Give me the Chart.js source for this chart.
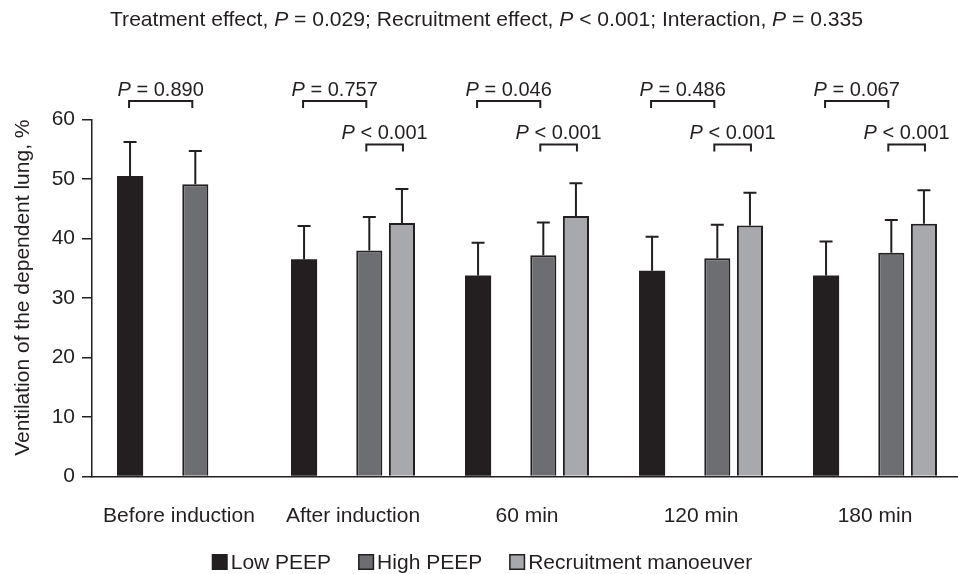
<!DOCTYPE html>
<html>
<head>
<meta charset="utf-8">
<script src="https://cdn.jsdelivr.net/npm/chart.js@4"></script>
<style>
  html, body { margin: 0; padding: 0; background: #fff; overflow: hidden; }
  #wrap { width: 958px; height: 574px; overflow: hidden; }
</style>
</head>
<body>
<div id="wrap"><canvas id="ventChart" width="962" height="574"></canvas></div>
<script>
// values (mean and upper SD whisker)
const categories = ['Before induction', 'After induction', '60 min', '120 min', '180 min'];
const lowPeep = [50.5, 36.5, 33.8, 34.6, 33.8];
const lowPeepSd = [5.7, 5.6, 5.5, 5.7, 5.7];
const highPeep = [49.1, 38.0, 37.2, 36.7, 37.6];
const highPeepSd = [5.6, 5.6, 5.5, 5.6, 5.5];
const recruitment = [null, 42.6, 43.8, 42.2, 42.5];
const recruitmentSd = [null, 5.7, 5.5, 5.5, 5.6];
const pLowHigh = ['= 0.890', '= 0.757', '= 0.046', '= 0.486', '= 0.067'];
const pHighRecruit = [null, '< 0.001', '< 0.001', '< 0.001', '< 0.001'];
const titleParts = [
  ['Treatment effect, ', false], ['P', true], [' = 0.029; Recruitment effect, ', false],
  ['P', true], [' < 0.001; Interaction, ', false], ['P', true], [' = 0.335', false]
];

const ink = '#231f20';
const family = '"Liberation Sans", Arial, Helvetica, sans-serif';
Chart.defaults.font.family = family;
Chart.defaults.color = ink;

// italic P followed by the rest, centred on cx
function drawP(ctx, text, cx, baseline) {
  const italic = 'italic 20px ' + family;
  const normal = '20px ' + family;
  const rest = ' ' + text;
  ctx.font = italic;
  const wP = ctx.measureText('P').width;
  ctx.font = normal;
  const wR = ctx.measureText(rest).width;
  const x = cx - (wP + wR) / 2;
  ctx.textAlign = 'left';
  ctx.textBaseline = 'alphabetic';
  ctx.font = italic;
  ctx.fillText('P', x, baseline);
  ctx.font = normal;
  ctx.fillText(rest, x + wP, baseline);
}

function bracket(ctx, x1, x2, yLine, text) {
  ctx.beginPath();
  ctx.moveTo(x1, yLine + 7);
  ctx.lineTo(x1, yLine);
  ctx.lineTo(x2, yLine);
  ctx.lineTo(x2, yLine + 7);
  ctx.stroke();
  drawP(ctx, text, (x1 + x2) / 2, yLine - 5.5);
}

const errorBars = {
  id: 'errorBars',
  afterDatasetsDraw(chart) {
    const ctx = chart.ctx;
    const y = chart.scales.y;
    ctx.save();
    ctx.strokeStyle = ink;
    ctx.lineWidth = 2;
    chart.data.datasets.forEach((ds, di) => {
      if (!ds.sd) return;
      chart.getDatasetMeta(di).data.forEach((bar, i) => {
        if (ds.data[i] == null) return;
        const top = y.getPixelForValue(ds.data[i] + ds.sd[i]);
        ctx.beginPath();
        ctx.moveTo(bar.x, bar.y);
        ctx.lineTo(bar.x, top);
        ctx.moveTo(bar.x - 6.5, top);
        ctx.lineTo(bar.x + 6.5, top);
        ctx.stroke();
      });
    });
    ctx.restore();
  }
};

const annotations = {
  id: 'annotations',
  afterDraw(chart) {
    const ctx = chart.ctx;
    const y = chart.scales.y;
    const lowBars = chart.getDatasetMeta(0).data;
    const highBars = chart.getDatasetMeta(2).data;
    const rmBars = chart.getDatasetMeta(3).data;
    ctx.save();
    ctx.strokeStyle = ink;
    ctx.fillStyle = ink;
    ctx.lineWidth = 2;

    // significance brackets
    const upper = y.getPixelForValue(63.1);
    const lower = y.getPixelForValue(55.8);
    categories.forEach((c, i) => {
      const mid = highBars[i].x - 3;
      bracket(ctx, lowBars[i].x - 1, mid, upper, pLowHigh[i]);
      if (pHighRecruit[i]) bracket(ctx, mid, rmBars[i].x + 1, lower, pHighRecruit[i]);
    });

    // title with italic P, squeezed to the original width
    const italic = 'italic 21px ' + family;
    const normal = '21px ' + family;
    let total = 0;
    titleParts.forEach(([t, it]) => { ctx.font = it ? italic : normal; total += ctx.measureText(t).width; });
    const sx = 753 / total;
    ctx.translate(110, 26);
    ctx.scale(sx, 1);
    let x = 0;
    ctx.textAlign = 'left';
    ctx.textBaseline = 'alphabetic';
    titleParts.forEach(([t, it]) => {
      ctx.font = it ? italic : normal;
      ctx.fillText(t, x, 0);
      x += ctx.measureText(t).width;
    });
    ctx.setTransform(1, 0, 0, 1, 0, 0);

    // legend
    ctx.font = '21px ' + family;
    const items = chart.data.datasets.filter(ds => ds.label);
    const widths = items.map(ds => 16 + 3 + ctx.measureText(ds.label).width);
    const full = widths.reduce((a, b) => a + b, 0) + 27 * (items.length - 1);
    let lx = 482 - full / 2;
    items.forEach((ds, k) => {
      ctx.fillStyle = ds.backgroundColor;
      ctx.fillRect(lx, 554, 16, 16);
      if (ds.borderWidth) {
        ctx.strokeStyle = ink;
        ctx.lineWidth = 1.5;
        ctx.strokeRect(lx + 0.75, 554.75, 14.5, 14.5);
      }
      ctx.fillStyle = ink;
      ctx.fillText(ds.label, lx + 19, 569);
      lx += widths[k] + 27;
    });
    ctx.restore();
  }
};

new Chart(document.getElementById('ventChart'), {
  type: 'bar',
  data: {
    labels: categories,
    datasets: [
      { label: 'Low PEEP', data: lowPeep, sd: lowPeepSd, backgroundColor: ink, borderColor: ink, borderWidth: 0 },
      { label: '', data: categories.map(() => null) },
      { label: 'High PEEP', data: highPeep, sd: highPeepSd, backgroundColor: '#6d6e71', borderColor: ink, borderWidth: 2 },
      { label: 'Recruitment manoeuver', data: recruitment, sd: recruitmentSd, backgroundColor: '#a7a9ac', borderColor: ink, borderWidth: 2 }
    ]
  },
  options: {
    responsive: false,
    animation: false,
    events: [],
    datasets: { bar: { categoryPercentage: 0.75, barPercentage: 0.8 } },
    layout: { padding: { top: 119.5, left: 11, right: 0, bottom: 47.5 } },
    plugins: { legend: { display: false }, title: { display: false }, tooltip: { enabled: false } },
    scales: {
      x: {
        grid: { display: false },
        border: { color: ink, width: 1.5 },
        ticks: { color: ink, font: { size: 21 }, padding: 19, maxRotation: 0 },
        afterFit(s) { s.height = 50; }
      },
      y: {
        min: 0,
        max: 60,
        ticks: { stepSize: 10, color: ink, font: { size: 21 }, padding: 7 },
        grid: { drawOnChartArea: false, tickLength: 10, color: ink, lineWidth: 1.5 },
        border: { color: ink, width: 1.5 },
        title: { display: true, text: 'Ventilation of the dependent lung, %', color: ink, font: { size: 21 }, padding: 0, align: 'end' },
        afterFit(s) { s.width = 81; }
      }
    }
  },
  plugins: [errorBars, annotations]
});
</script>
</body>
</html>
